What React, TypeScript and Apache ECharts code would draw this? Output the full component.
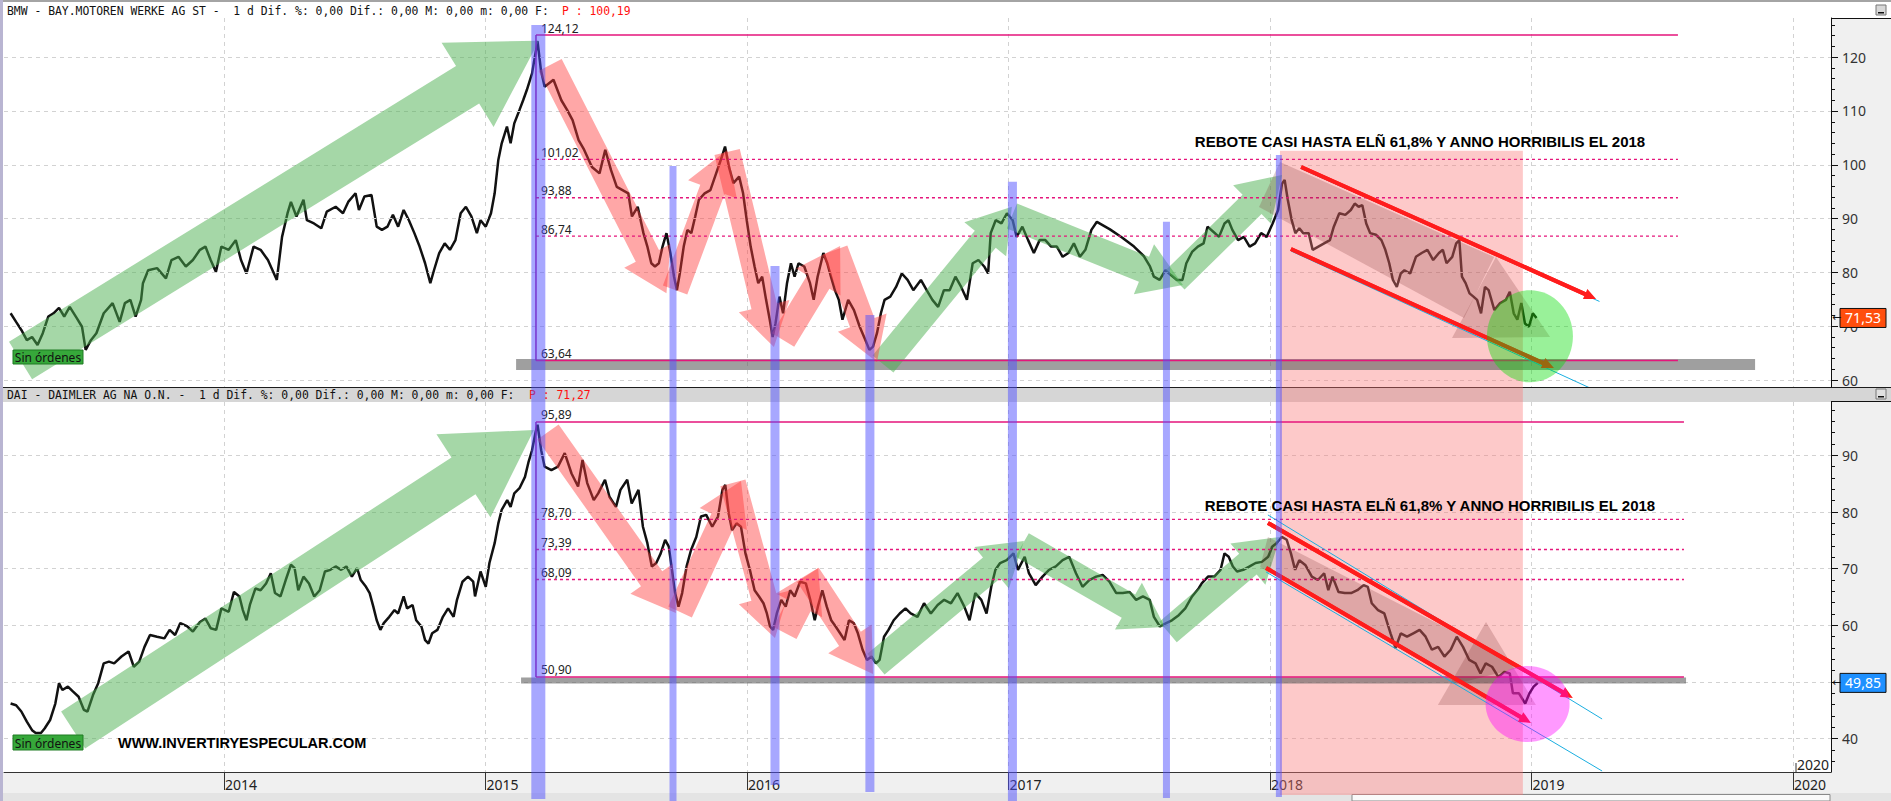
import React, { useEffect, useRef } from "react";
import * as echarts from "echarts";

// ---------------- DATA ----------------
// x = position on the time axis in years (trading-day scale)
const bmwDates = [
  2013.184, 2013.205, 2013.225, 2013.246, 2013.266, 2013.287, 2013.307, 2013.328, 2013.348, 2013.369, 2013.389, 2013.41,
  2013.437, 2013.457, 2013.471, 2013.491, 2013.512, 2013.54, 2013.574, 2013.601, 2013.621, 2013.642, 2013.662, 2013.683,
  2013.69, 2013.71, 2013.744, 2013.778, 2013.799, 2013.826, 2013.854, 2013.881, 2013.908, 2013.929, 2013.949, 2013.969,
  2013.99, 2014.018, 2014.045, 2014.065, 2014.086, 2014.113, 2014.14, 2014.168, 2014.202, 2014.222, 2014.243, 2014.256,
  2014.277, 2014.304, 2014.317, 2014.344, 2014.372, 2014.393, 2014.427, 2014.455, 2014.475, 2014.503, 2014.516, 2014.537,
  2014.564, 2014.584, 2014.604, 2014.625, 2014.646, 2014.666, 2014.687, 2014.707, 2014.728, 2014.748, 2014.769, 2014.789,
  2014.803, 2014.823, 2014.844, 2014.864, 2014.885, 2014.905, 2014.925, 2014.946, 2014.967, 2014.981, 2015.001, 2015.021,
  2015.035, 2015.049, 2015.062, 2015.082, 2015.096, 2015.11, 2015.13, 2015.144, 2015.158, 2015.178, 2015.199, 2015.212,
  2015.226, 2015.26, 2015.29, 2015.312, 2015.333, 2015.356, 2015.377, 2015.407, 2015.436, 2015.458, 2015.48, 2015.502,
  2015.524, 2015.546, 2015.56, 2015.582, 2015.604, 2015.619, 2015.634, 2015.648, 2015.663, 2015.677, 2015.692, 2015.707,
  2015.721, 2015.732, 2015.743, 2015.758, 2015.772, 2015.787, 2015.802, 2015.816, 2015.838, 2015.86, 2015.882, 2015.904,
  2015.916, 2015.931, 2015.948, 2015.97, 2015.985, 2015.999, 2016.014, 2016.029, 2016.043, 2016.058, 2016.073, 2016.087,
  2016.098, 2016.109, 2016.124, 2016.138, 2016.153, 2016.168, 2016.182, 2016.197, 2016.219, 2016.241, 2016.255, 2016.27,
  2016.292, 2016.307, 2016.321, 2016.336, 2016.351, 2016.365, 2016.387, 2016.409, 2016.431, 2016.453, 2016.468, 2016.482,
  2016.497, 2016.512, 2016.526, 2016.548, 2016.57, 2016.592, 2016.614, 2016.636, 2016.665, 2016.687, 2016.709, 2016.731,
  2016.753, 2016.775, 2016.797, 2016.819, 2016.841, 2016.863, 2016.885, 2016.907, 2016.922, 2016.932, 2016.951, 2016.973,
  2016.994, 2017.016, 2017.031, 2017.053, 2017.075, 2017.097, 2017.119, 2017.141, 2017.163, 2017.185, 2017.207, 2017.229,
  2017.25, 2017.273, 2017.294, 2017.317, 2017.338, 2017.388, 2017.434, 2017.48, 2017.518, 2017.541, 2017.556, 2017.578,
  2017.6, 2017.621, 2017.644, 2017.665, 2017.68, 2017.702, 2017.724, 2017.746, 2017.761, 2017.782, 2017.805, 2017.826,
  2017.841, 2017.856, 2017.878, 2017.9, 2017.922, 2017.943, 2017.966, 2017.987, 2018.01, 2018.031, 2018.046, 2018.056,
  2018.068, 2018.083, 2018.097, 2018.112, 2018.127, 2018.148, 2018.163, 2018.185, 2018.207, 2018.229, 2018.244, 2018.265,
  2018.288, 2018.309, 2018.324, 2018.339, 2018.353, 2018.368, 2018.383, 2018.405, 2018.426, 2018.441, 2018.456, 2018.47,
  2018.485, 2018.5, 2018.514, 2018.536, 2018.558, 2018.58, 2018.602, 2018.624, 2018.646, 2018.661, 2018.675, 2018.697,
  2018.712, 2018.724, 2018.734, 2018.748, 2018.763, 2018.778, 2018.792, 2018.807, 2018.822, 2018.836, 2018.858, 2018.88,
  2018.902, 2018.917, 2018.932, 2018.946, 2018.961, 2018.975, 2018.99, 2019.005, 2019.019,
];
const bmwClose = [
  72.4, 70.8, 69.3, 67.4, 68.0, 66.5, 68.7, 71.8, 72.4, 73.4, 71.8, 73.6,
  71.5, 69.9, 65.6, 67.4, 68.7, 72.4, 74.3, 70.8, 74.3, 74.9, 71.8, 74.9,
  78.0, 80.4, 80.8, 78.9, 82.3, 82.9, 81.1, 82.3, 84.2, 84.8, 82.3, 80.1,
  84.8, 84.2, 86.0, 82.3, 79.8, 84.8, 84.2, 82.3, 78.6, 86.6, 91.0, 93.1,
  90.4, 93.5, 89.7, 89.1, 88.2, 91.3, 92.2, 91.0, 93.1, 94.7, 91.6, 94.1,
  94.4, 88.5, 87.9, 88.5, 90.7, 88.5, 91.6, 89.7, 87.3, 84.8, 81.7, 78.0,
  80.4, 83.6, 85.4, 84.2, 86.0, 91.0, 92.2, 90.4, 87.3, 89.7, 88.5, 91.0,
  94.7, 100.9, 104.0, 107.1, 104.0, 107.7, 110.2, 112.0, 113.9, 117.0, 123.0, 117.6,
  114.5, 115.8, 112.0, 110.2, 108.3, 104.6, 102.8, 99.6, 98.4, 102.8, 99.0, 95.9,
  95.3, 94.7, 90.4, 92.2, 87.3, 84.8, 81.7, 81.1, 81.7, 84.8, 87.3, 83.6,
  79.2, 76.7, 79.8, 84.8, 87.9, 87.3, 90.4, 93.5, 94.7, 95.3, 98.4, 101.5,
  103.4, 99.6, 96.6, 97.8, 94.7, 89.7, 84.8, 81.1, 78.0, 79.2, 74.9, 71.2,
  68.0, 70.5, 75.5, 72.4, 78.0, 81.7, 79.2, 81.7, 81.1, 78.0, 74.9, 79.2,
  83.6, 81.7, 79.2, 76.7, 74.9, 71.2, 74.9, 73.0, 69.9, 67.4, 65.6, 66.2,
  68.7, 72.4, 74.9, 75.5, 77.3, 79.8, 78.6, 76.7, 78.6, 76.7, 74.9, 73.6,
  76.7, 76.7, 79.2, 77.3, 74.9, 81.7, 82.3, 81.1, 79.8, 87.3, 89.7, 89.1,
  91.0, 89.7, 86.6, 88.5, 86.0, 83.6, 86.0, 86.0, 84.8, 84.8, 82.9, 83.6,
  85.4, 82.9, 84.2, 87.9, 89.4, 88.0, 86.5, 84.8, 83.0, 81.1, 79.2, 78.6,
  80.4, 79.5, 78.6, 78.6, 81.7, 83.8, 84.8, 85.4, 88.5, 87.6, 86.6, 89.1,
  89.7, 87.9, 86.0, 86.6, 84.8, 85.4, 87.3, 86.6, 89.1, 91.6, 96.5, 97.2,
  93.5, 89.7, 87.3, 88.2, 87.3, 87.3, 84.2, 84.8, 85.4, 86.0, 88.5, 91.0,
  90.7, 91.6, 92.8, 92.2, 92.5, 89.1, 87.3, 87.0, 86.0, 84.2, 81.7, 78.6,
  77.3, 79.8, 80.4, 79.8, 82.9, 83.6, 84.2, 82.3, 83.6, 84.2, 81.7, 82.9,
  85.4, 86.0, 79.2, 78.0, 76.1, 75.5, 74.9, 72.4, 77.3, 76.7, 73.0, 74.3,
  74.9, 76.4, 72.4, 71.2, 74.3, 70.5, 69.9, 72.4, 71.53,
];
const daiDates = [
  2013.184, 2013.205, 2013.225, 2013.246, 2013.266, 2013.28, 2013.3, 2013.314, 2013.335, 2013.355, 2013.369, 2013.382,
  2013.403, 2013.423, 2013.444, 2013.464, 2013.478, 2013.499, 2013.519, 2013.54, 2013.56, 2013.58, 2013.608, 2013.635,
  2013.655, 2013.676, 2013.696, 2013.717, 2013.744, 2013.772, 2013.792, 2013.813, 2013.833, 2013.86, 2013.881, 2013.908,
  2013.929, 2013.949, 2013.97, 2013.99, 2014.018, 2014.038, 2014.059, 2014.072, 2014.086, 2014.099, 2014.12, 2014.14,
  2014.161, 2014.179, 2014.195, 2014.216, 2014.236, 2014.256, 2014.27, 2014.284, 2014.304, 2014.325, 2014.345, 2014.366,
  2014.386, 2014.407, 2014.427, 2014.448, 2014.468, 2014.489, 2014.509, 2014.523, 2014.543, 2014.557, 2014.571, 2014.584,
  2014.598, 2014.611, 2014.632, 2014.652, 2014.666, 2014.687, 2014.7, 2014.721, 2014.735, 2014.755, 2014.769, 2014.782,
  2014.796, 2014.816, 2014.837, 2014.857, 2014.878, 2014.891, 2014.912, 2014.933, 2014.953, 2014.96, 2014.981, 2015.001,
  2015.015, 2015.035, 2015.049, 2015.062, 2015.083, 2015.096, 2015.11, 2015.13, 2015.151, 2015.165, 2015.178, 2015.192,
  2015.199, 2015.213, 2015.226, 2015.252, 2015.277, 2015.303, 2015.329, 2015.354, 2015.371, 2015.389, 2015.414, 2015.431,
  2015.457, 2015.474, 2015.499, 2015.516, 2015.542, 2015.559, 2015.585, 2015.602, 2015.619, 2015.636, 2015.653, 2015.67,
  2015.687, 2015.701, 2015.713, 2015.725, 2015.738, 2015.752, 2015.769, 2015.786, 2015.806, 2015.824, 2015.844, 2015.867,
  2015.889, 2015.906, 2015.917, 2015.93, 2015.943, 2015.96, 2015.977, 2015.994, 2016.011, 2016.029, 2016.046, 2016.063,
  2016.076, 2016.088, 2016.1, 2016.114, 2016.131, 2016.148, 2016.165, 2016.182, 2016.203, 2016.225, 2016.242, 2016.259,
  2016.271, 2016.288, 2016.305, 2016.322, 2016.339, 2016.356, 2016.373, 2016.39, 2016.408, 2016.424, 2016.442, 2016.459,
  2016.476, 2016.493, 2016.507, 2016.524, 2016.541, 2016.561, 2016.584, 2016.606, 2016.626, 2016.652, 2016.677, 2016.703,
  2016.729, 2016.754, 2016.78, 2016.805, 2016.831, 2016.851, 2016.873, 2016.896, 2016.916, 2016.934, 2016.95, 2016.968,
  2016.993, 2017.019, 2017.036, 2017.062, 2017.078, 2017.104, 2017.13, 2017.155, 2017.181, 2017.207, 2017.232, 2017.258,
  2017.283, 2017.309, 2017.335, 2017.36, 2017.386, 2017.412, 2017.437, 2017.463, 2017.488, 2017.514, 2017.54, 2017.556,
  2017.579, 2017.603, 2017.625, 2017.651, 2017.676, 2017.702, 2017.727, 2017.739, 2017.763, 2017.787, 2017.811, 2017.826,
  2017.842, 2017.858, 2017.874, 2017.898, 2017.922, 2017.945, 2017.969, 2017.993, 2018.009, 2018.025, 2018.045, 2018.064,
  2018.08, 2018.096, 2018.112, 2018.136, 2018.16, 2018.183, 2018.207, 2018.223, 2018.239, 2018.262, 2018.286, 2018.31,
  2018.334, 2018.358, 2018.374, 2018.389, 2018.413, 2018.437, 2018.461, 2018.48, 2018.5, 2018.524, 2018.548, 2018.572,
  2018.595, 2018.619, 2018.643, 2018.667, 2018.691, 2018.714, 2018.738, 2018.762, 2018.786, 2018.805, 2018.825, 2018.849,
  2018.873, 2018.897, 2018.917, 2018.929, 2018.952, 2018.976, 2018.992, 2019.008, 2019.024,
];
const daiClose = [
  46.2, 45.9, 44.8, 43.0, 41.5, 41.0, 41.0, 41.8, 43.3, 46.2, 49.8, 48.6,
  49.2, 48.3, 47.4, 45.1, 44.8, 47.7, 49.8, 53.3, 53.6, 53.3, 54.5, 55.4,
  52.7, 53.6, 56.2, 58.3, 58.0, 57.7, 59.2, 58.3, 60.4, 59.8, 58.9, 60.6,
  61.2, 59.5, 59.2, 63.0, 62.4, 65.9, 65.1, 62.7, 60.9, 63.6, 66.5, 66.2,
  67.4, 69.2, 65.7, 65.1, 68.0, 70.7, 70.1, 66.2, 68.6, 67.4, 65.1, 66.2,
  69.5, 69.8, 70.4, 69.8, 70.4, 68.6, 70.1, 68.0, 66.8, 65.7, 63.3, 60.9,
  59.2, 60.4, 61.5, 62.7, 62.1, 65.1, 63.0, 63.6, 60.9, 59.8, 57.4, 56.8,
  58.6, 59.2, 61.5, 63.0, 61.5, 64.5, 67.7, 68.6, 67.7, 65.1, 69.5, 66.8,
  71.0, 74.5, 78.0, 80.4, 82.1, 80.9, 83.3, 84.2, 86.2, 88.9, 90.9, 94.2,
  95.4, 90.9, 88.0, 87.4, 88.0, 90.4, 86.8, 84.5, 89.2, 85.1, 82.1, 83.3,
  85.7, 82.7, 80.9, 83.9, 85.7, 81.5, 83.9, 77.4, 74.5, 70.4, 71.0, 72.7,
  75.1, 73.9, 69.8, 65.7, 63.3, 65.7, 70.4, 73.3, 75.6, 79.2, 79.5, 77.4,
  79.2, 83.9, 84.8, 79.8, 76.8, 78.0, 77.4, 72.7, 69.8, 66.2, 65.1, 63.9,
  62.1, 59.8, 59.2, 62.1, 64.5, 63.3, 66.2, 65.1, 67.7, 67.4, 64.5, 60.9,
  63.3, 66.2, 63.3, 60.9, 59.8, 58.6, 57.4, 60.9, 60.4, 58.6, 55.7, 53.9,
  54.5, 53.3, 53.9, 58.0, 59.2, 60.9, 62.1, 63.0, 62.1, 61.5, 63.9, 62.1,
  63.6, 64.5, 63.9, 65.7, 63.3, 60.9, 65.7, 64.5, 62.1, 66.8, 69.8, 71.0,
  71.5, 72.7, 69.8, 72.1, 69.2, 67.1, 68.6, 69.8, 70.4, 71.5, 72.1, 69.2,
  66.8, 68.0, 68.6, 68.9, 67.7, 65.7, 65.7, 65.9, 64.5, 65.1, 64.5, 61.5,
  59.8, 60.4, 60.9, 61.8, 63.0, 65.1, 66.5, 67.4, 68.6, 68.6, 69.8, 72.7,
  72.1, 70.4, 69.5, 69.8, 70.4, 71.0, 71.2, 72.1, 73.9, 74.5, 75.6, 75.1,
  72.7, 69.8, 71.5, 70.6, 68.6, 68.0, 69.2, 66.2, 68.6, 65.9, 65.7, 65.7,
  66.2, 67.1, 66.8, 63.9, 62.7, 62.1, 58.6, 56.0, 58.6, 58.0, 58.6, 59.2,
  58.0, 55.7, 56.2, 54.5, 55.7, 58.0, 56.2, 53.9, 53.3, 51.5, 53.3, 52.7,
  50.9, 51.8, 51.5, 48.0, 48.0, 46.2, 48.0, 49.2, 49.85,
];

// axis ticks
const yearTicks = [2014, 2015, 2016, 2017, 2018, 2019, 2020];
const bmwTicks = [60, 70, 80, 90, 100, 110, 120];
const bmwMinorTicks = [60, 62, 64, 66, 68, 70, 72, 74, 76, 78, 80, 82, 84, 86, 88, 90, 92, 94, 96, 98, 100, 102, 104, 106, 108, 110, 112, 114, 116, 118, 120, 122, 124, 126];
const daiTicks = [40, 50, 60, 70, 80, 90];
const daiMinorTicks = [36, 38, 40, 42, 44, 46, 48, 50, 52, 54, 56, 58, 60, 62, 64, 66, 68, 70, 72, 74, 76, 78, 80, 82, 84, 86, 88, 90, 92, 94, 96, 98];

// Fibonacci levels
const bmwFibLevels = [124.12, 101.02, 93.88, 86.74, 63.64];
const bmwFibLabels = ["124,12", "101,02", "93,88", "86,74", "63,64"];
const daiFibLevels = [95.89, 78.7, 73.39, 68.09, 50.9];
const daiFibLabels = ["95,89", "78,70", "73,39", "68,09", "50,90"];

// Drawn annotations (in axis units): [tailX, tailY, tipX, tipY]
const bmwGreenArrows = [
  [2013.222, 63.64, 2015.205, 123.07],
  [2016.52, 62.97, 2017.013, 92.2],
  [2017.013, 90.48, 2017.667, 77.66],
  [2017.637, 78.59, 2018.046, 98.1],
];
const bmwRedArrows = [
  [2015.247, 118.55, 2015.692, 76.12],
  [2015.725, 76.73, 2015.924, 102.75],
  [2015.924, 102.38, 2016.103, 66.13],
  [2016.138, 67.43, 2016.356, 84.91],
  [2016.337, 84.16, 2016.497, 63.35],
];
const daiGreenArrows = [
  [2013.423, 41.54, 2015.185, 94.47],
  [2016.493, 53.18, 2017.059, 74.89],
  [2017.052, 74.18, 2017.598, 59.71],
  [2017.61, 58.83, 2018.038, 75.6],
];
const daiRedArrows = [
  [2015.239, 94.12, 2015.728, 62.18],
  [2015.744, 62.36, 2015.977, 85.48],
  [2015.946, 85.13, 2016.107, 57.77],
  [2016.145, 58.65, 2016.272, 70.12],
  [2016.233, 68.89, 2016.482, 51.42],
];
const bmwChannelBand = [[2018.038, 100.52], [2018.857, 82.86], [2018.742, 71.52], [2017.958, 92.16]];
const bmwChannelHead = [[2018.696, 67.81], [2018.864, 82.86], [2019.071, 67.99]];
const daiChannelBand = [[2017.992, 75.59], [2018.967, 52.65], [2018.723, 49.83], [2017.962, 70.3]];
const daiChannelHead = [[2018.642, 45.95], [2018.826, 60.59], [2019.017, 45.95]];
const bmwRedLines = [[2018.119, 99.59, 2019.247, 75.06], [2018.08, 84.35, 2019.086, 62.23]];
const bmwCyanLines = [[2018.119, 99.3, 2019.26, 74.6], [2018.08, 83.98, 2019.224, 58.51]];
const daiRedLines = [[2017.992, 78.07, 2019.158, 47.19], [2017.985, 70.13, 2018.998, 42.77]];
const daiCyanLines = [[2017.992, 79.48, 2019.27, 43.48], [2017.985, 69.42, 2019.27, 34.3]];
const bmwCircle = [2018.994, 68.12];
const daiCircle = [2018.985, 46.12];
const pivotYears = [2015.202, 2015.717, 2016.107, 2016.47, 2017.015, 2017.604, 2018.034];
const pivotTops = [125.99, 99.78, 81.19, 72.08, 96.86, 89.42, 101.82];
const year2018Span = [2018.038, 2018.967];
const year2018Top = 102.62;
const bmwFibSpan = [2015.193, 2019.56];
const daiFibSpan = [2015.193, 2019.583];
const bmwSupport = [2015.117, 2019.855, 62.88];
const daiSupport = [2015.136, 2019.591, 50.27];

// ---------------- LAYOUT / STYLE ----------------
const W = 1891;
const H = 801;
const X_MIN = 2013.1587;
const X_MAX = 2020.1453;
const AXIS_FONT = "Noto Sans";
const HEADER_FONT = '11.4px "DejaVu Sans Mono"';
const pivotWidths = [14, 7, 9, 9, 9, 7, 6];
const pivotBottoms = [799, 801, 785, 792, 801, 798, 797];

const ts = (font: string, fill: string, align = "left", vAlign = "middle") => ({
  font, fill, textAlign: align, textVerticalAlign: vAlign, align, verticalAlign: vAlign,
});

function arrowPolygon(a: number[], b: number[], shaft: number, headW: number, headL: number) {
  const dx = b[0] - a[0], dy = b[1] - a[1];
  const len = Math.hypot(dx, dy) || 1;
  const ux = dx / len, uy = dy / len, nx = -uy, ny = ux;
  const bx = b[0] - ux * headL, by = b[1] - uy * headL;
  const s = shaft / 2, h = headW / 2;
  return [
    [a[0] + nx * s, a[1] + ny * s], [bx + nx * s, by + ny * s], [bx + nx * h, by + ny * h],
    [b[0], b[1]], [bx - nx * h, by - ny * h], [bx - nx * s, by - ny * s], [a[0] - nx * s, a[1] - ny * s],
  ];
}

function renderPanel(p: any) {
  return (_params: any, api: any) => {
    const c = (x: number, y: number) => api.coord([x, y]) as number[];
    const ch: any[] = [];
    // support band
    const g1 = c(p.support[0], p.support[2]), g2 = c(p.support[1], p.support[2]);
    ch.push({ type: "rect", shape: { x: g1[0], y: g1[1] - p.supportH / 2, width: g2[0] - g1[0], height: p.supportH }, style: { fill: "rgba(95,95,95,0.6)" } });
    // arrows
    p.green.forEach((s: number[], i: number) => {
      const big = i === 0;
      ch.push({ type: "polygon", shape: { points: arrowPolygon(c(s[0], s[1]), c(s[2], s[3]), big ? 44 : 27, big ? 99 : 54, big ? 84 : 42) }, style: { fill: "rgba(76,175,80,0.5)" } });
    });
    p.red.forEach((s: number[]) => {
      ch.push({ type: "polygon", shape: { points: arrowPolygon(c(s[0], s[1]), c(s[2], s[3]), 26, 52, 42) }, style: { fill: "rgba(255,60,60,0.45)" } });
    });
    // fibonacci box
    const lv = p.fib;
    lv.forEach((v: number, i: number) => {
      const a = c(p.fibSpan[0], v), b = c(p.fibSpan[1], v);
      const solid = i === 0 || i === lv.length - 1;
      const st: any = { stroke: "#e5157b", lineWidth: solid ? 1.5 : 1.3 };
      if (!solid) st.lineDash = [3, 3];
      ch.push({ type: "line", shape: { x1: a[0], y1: a[1], x2: b[0], y2: b[1] }, style: st });
      ch.push({ type: "text", x: a[0] + 5, y: a[1] - 7, style: { text: p.fibLabels[i], ...ts('12px "Noto Sans"', "#222") } });
    });
    const vt = c(p.fibSpan[0], lv[0]), vb = c(p.fibSpan[0], lv[lv.length - 1]);
    ch.push({ type: "line", shape: { x1: vt[0], y1: vt[1], x2: vb[0], y2: vb[1] }, style: { stroke: "#a0169c", lineWidth: 1.5 } });
    // channel band
    ch.push({ type: "polygon", shape: { points: p.band.map((q: number[]) => c(q[0], q[1])) }, style: { fill: "rgba(120,40,40,0.22)" } });
    ch.push({ type: "polygon", shape: { points: p.head.map((q: number[]) => c(q[0], q[1])) }, style: { fill: "rgba(120,40,40,0.22)" } });
    // cyan trend lines
    p.cyan.forEach((s: number[]) => {
      const a = c(s[0], s[1]), b = c(s[2], s[3]);
      ch.push({ type: "line", shape: { x1: a[0], y1: a[1], x2: b[0], y2: b[1] }, style: { stroke: "#1aaee0", lineWidth: 1 } });
    });
    // red channel arrows
    p.redLines.forEach((s: number[]) => {
      const a = c(s[0], s[1]), b = c(s[2], s[3]);
      const len = Math.hypot(b[0] - a[0], b[1] - a[1]);
      const ux = (b[0] - a[0]) / len, uy = (b[1] - a[1]) / len;
      const e = [b[0] - ux * 9, b[1] - uy * 9];
      ch.push({ type: "line", shape: { x1: a[0], y1: a[1], x2: e[0], y2: e[1] }, style: { stroke: "#ff1c1c", lineWidth: 4 } });
      ch.push({ type: "polygon", shape: { points: arrowPolygon(a, b, 4, 11, 12) }, style: { fill: "#ff1c1c" } });
    });
    // circle
    const cc = c(p.circle[0], p.circle[1]);
    ch.push({ type: "ellipse", shape: { cx: cc[0], cy: cc[1], rx: p.circleR[0], ry: p.circleR[1] }, style: { fill: p.circleColor } });
    return { type: "group", children: ch };
  };
}

function buildOption() {
  const split = { show: true, lineStyle: { color: "#d2d2d2", type: [4, 4], width: 1 } };
  const yLab = { color: "#333", fontSize: 14, fontFamily: AXIS_FONT, margin: 11 };
  return {
    animation: false,
    backgroundColor: "#ffffff",
    grid: [
      { left: 4, top: 18, width: 1827, height: 369, containLabel: false, outerBoundsMode: "none" },
      { left: 4, top: 402, width: 1827, height: 370, containLabel: false, outerBoundsMode: "none" },
    ],
    xAxis: [
      {
        type: "value", gridIndex: 0, min: X_MIN, max: X_MAX, position: "bottom",
        axisLine: { show: false }, axisTick: { show: false, customValues: yearTicks },
        axisLabel: { show: false, customValues: yearTicks }, splitLine: split,
      },
      {
        type: "value", gridIndex: 1, min: X_MIN, max: X_MAX, position: "bottom",
        axisLine: { show: true, onZero: false, lineStyle: { color: "#333", width: 1 } },
        axisTick: { show: true, customValues: yearTicks, length: 18, lineStyle: { color: "#333" } },
        axisLabel: {
          show: true, customValues: yearTicks, formatter: (v: number) => String(Math.round(v)),
          align: "left", margin: 5, padding: [0, 0, 0, 1], color: "#222", fontSize: 14, fontFamily: AXIS_FONT,
        },
        splitLine: split,
      },
    ],
    yAxis: [
      {
        type: "value", gridIndex: 0, position: "right", min: 58.699, max: 127.286, z: 3,
        axisLine: { show: true, onZero: false, lineStyle: { color: "#111" } },
        axisTick: { show: true, length: 7, customValues: bmwTicks, lineStyle: { color: "#111" } },
        axisLabel: { show: true, customValues: bmwTicks, ...yLab }, splitLine: split,
      },
      {
        type: "value", gridIndex: 0, position: "right", min: 58.699, max: 127.286, z: 3,
        axisLine: { show: false }, axisTick: { show: true, length: 4, customValues: bmwMinorTicks, lineStyle: { color: "#111" } },
        axisLabel: { show: false }, splitLine: { show: false },
      },
      {
        type: "value", gridIndex: 1, position: "right", min: 34.124, max: 99.414, z: 3,
        axisLine: { show: true, onZero: false, lineStyle: { color: "#111" } },
        axisTick: { show: true, length: 7, customValues: daiTicks, lineStyle: { color: "#111" } },
        axisLabel: { show: true, customValues: daiTicks, ...yLab }, splitLine: split,
      },
      {
        type: "value", gridIndex: 1, position: "right", min: 34.124, max: 99.414, z: 3,
        axisLine: { show: false }, axisTick: { show: true, length: 4, customValues: daiMinorTicks, lineStyle: { color: "#111" } },
        axisLabel: { show: false }, splitLine: { show: false },
      },
    ],
    series: [
      {
        type: "line", name: "BMW", xAxisIndex: 0, yAxisIndex: 0, symbol: "none", showSymbol: false, silent: true, z: 2,
        data: bmwDates.map((d, i) => [d, bmwClose[i]]), lineStyle: { color: "#111", width: 2.5 },
      },
      {
        type: "line", name: "DAI", xAxisIndex: 1, yAxisIndex: 2, symbol: "none", showSymbol: false, silent: true, z: 2,
        data: daiDates.map((d, i) => [d, daiClose[i]]), lineStyle: { color: "#111", width: 2.5 },
      },
      {
        type: "custom", xAxisIndex: 0, yAxisIndex: 0, clip: true, silent: true, z: 5, data: [[2016, 90]],
        renderItem: renderPanel({
          support: bmwSupport, supportH: 11, green: bmwGreenArrows, red: bmwRedArrows,
          fib: bmwFibLevels, fibLabels: bmwFibLabels, fibSpan: bmwFibSpan,
          band: bmwChannelBand, head: bmwChannelHead, cyan: bmwCyanLines, redLines: bmwRedLines,
          circle: bmwCircle, circleR: [43, 46], circleColor: "rgba(0,220,0,0.4)",
        }),
      },
      {
        type: "custom", xAxisIndex: 1, yAxisIndex: 2, clip: true, silent: true, z: 5, data: [[2016, 60]],
        renderItem: renderPanel({
          support: daiSupport, supportH: 6, green: daiGreenArrows, red: daiRedArrows,
          fib: daiFibLevels, fibLabels: daiFibLabels, fibSpan: daiFibSpan,
          band: daiChannelBand, head: daiChannelHead, cyan: daiCyanLines, redLines: daiRedLines,
          circle: daiCircle, circleR: [42, 38], circleColor: "rgba(255,0,255,0.4)",
        }),
      },
    ],
  };
}

function buildGraphics(chart: any) {
  const p0 = (x: number, y: number) => chart.convertToPixel({ xAxisIndex: 0, yAxisIndex: 0 }, [x, y]) as number[];
  const p1 = (x: number, y: number) => chart.convertToPixel({ xAxisIndex: 1, yAxisIndex: 2 }, [x, y]) as number[];
  const els: any[] = [];
  const rect = (x: number, y: number, w: number, h: number, style: any, z = -5) =>
    els.push({ type: "rect", shape: { x, y, width: w, height: h }, style, z, silent: true });
  const text = (x: number, y: number, t: string, style: any, z = 1) =>
    els.push({ type: "text", x, y, style: { text: t, ...style }, z, silent: true });

  // window frame / panels
  rect(0, 0, W, 2, { fill: "#a4a4a4" });
  rect(0, 0, 3, H, { fill: "#b9b5d2" });
  rect(1831, 18, 60, 369, { fill: "#f0f0f0" });
  rect(1831, 402, 60, 399, { fill: "#f0f0f0" });
  rect(3, 387, W - 3, 15, { fill: "#d6d6d6" });
  rect(3, 387, W - 3, 1, { fill: "#1c1c1c" }, -4);
  rect(1831, 18, 60, 1, { fill: "#111" }, -4);
  rect(1831, 401, 60, 1, { fill: "#111" }, -4);
  rect(3, 773, 1828, 20, { fill: "#f0f0f0" });
  rect(3, 793, W - 3, 8, { fill: "#e4e4e4" });
  rect(1352, 794.5, 478, 6.5, { fill: "#fafafa", stroke: "#8a8a8a", lineWidth: 1 }, -4);
  rect(1876, 5, 10, 10, { fill: "#d8d8d8", stroke: "#777", lineWidth: 1 }, -4);
  rect(1878, 12, 6, 1.5, { fill: "#111" }, -3);
  rect(1876, 389, 10, 10, { fill: "#e0e0e0", stroke: "#777", lineWidth: 1 }, -4);
  rect(1878, 396, 6, 1.5, { fill: "#111" }, -3);
  rect(1795.5, 763, 1, 9, { fill: "#333" }, -3);
  text(1797, 764, "2020", ts('14px "Noto Sans"', "#222"), -3);

  // headers
  text(7, 11, "BMW - BAY.MOTOREN WERKE AG ST -  1 d Dif. %: 0,00 Dif.: 0,00 M: 0,00 m: 0,00 F:", ts(HEADER_FONT, "#111"));
  text(562, 11, "P : 100,19", ts(HEADER_FONT, "#ff1010"));
  text(7, 395, "DAI - DAIMLER AG NA O.N. -  1 d Dif. %: 0,00 Dif.: 0,00 M: 0,00 m: 0,00 F:", ts(HEADER_FONT, "#111"));
  text(529, 395, "P : 71,27", ts(HEADER_FONT, "#ff1010"));

  // 2018 pink zone
  const k1 = p0(year2018Span[0], year2018Top), k2 = p0(year2018Span[1], year2018Top);
  rect(k1[0], k1[1], k2[0] - k1[0], 795 - k1[1], { fill: "rgba(250,120,120,0.4)" }, 4);

  // pivot bars
  pivotYears.forEach((yr, i) => {
    const t = p0(yr, pivotTops[i]);
    rect(t[0] - pivotWidths[i] / 2, t[1], pivotWidths[i], pivotBottoms[i] - t[1], { fill: "rgba(80,80,255,0.5)" }, 6);
  });

  // labels
  rect(13, 350, 70, 14, { fill: "#36a83a", stroke: "#1e7a22", lineWidth: 1 }, 7);
  text(48, 357.5, "Sin órdenes", ts('12px "Noto Sans"', "#111", "center"), 8);
  rect(13, 735, 70, 15, { fill: "#36a83a", stroke: "#1e7a22", lineWidth: 1 }, 7);
  text(48, 743, "Sin órdenes", ts('12px "Noto Sans"', "#111", "center"), 8);
  text(118, 743, "WWW.INVERTIRYESPECULAR.COM", ts('bold 14.5px "Liberation Sans"', "#000"), 8);
  text(1420, 141, "REBOTE CASI HASTA ELÑ 61,8% Y ANNO HORRIBILIS EL 2018", ts('bold 15px "Liberation Sans"', "#000", "center"), 8);
  text(1430, 505, "REBOTE CASI HASTA ELÑ 61,8% Y ANNO HORRIBILIS EL 2018", ts('bold 15px "Liberation Sans"', "#000", "center"), 8);

  // last price tags
  const bLast = bmwClose[bmwClose.length - 1];
  const dLast = daiClose[daiClose.length - 1];
  const yb = p0(bmwDates[bmwDates.length - 1], bLast)[1];
  const yd = p1(daiDates[daiDates.length - 1], dLast)[1];
  rect(1840, yb - 9.5, 46, 19, { fill: "#ff4e0d", stroke: "#111", lineWidth: 1 }, 7);
  text(1863, yb, bLast.toFixed(2).replace(".", ","), ts('14px "Noto Sans"', "#fff", "center"), 8);
  text(1832, yb, "←", ts('11px "DejaVu Sans"', "#111"), 8);
  rect(1840, yd - 9.5, 46, 19, { fill: "#1e90ff", stroke: "#111", lineWidth: 1 }, 7);
  text(1863, yd, dLast.toFixed(2).replace(".", ","), ts('14px "Noto Sans"', "#fff", "center"), 8);
  text(1832, yd, "←", ts('11px "DejaVu Sans"', "#111"), 8);
  return els;
}

export default function App() {
  const ref = useRef<HTMLDivElement>(null);
  useEffect(() => {
    document.body.style.margin = "0";
    const el = ref.current;
    if (!el) return;
    const chart = echarts.init(el, null, { renderer: "svg" });
    chart.setOption(buildOption() as any);
    chart.setOption({ graphic: { elements: buildGraphics(chart) } } as any);
    return () => chart.dispose();
  }, []);
  return <div ref={ref} style={{ width: W, height: H }} />;
}
